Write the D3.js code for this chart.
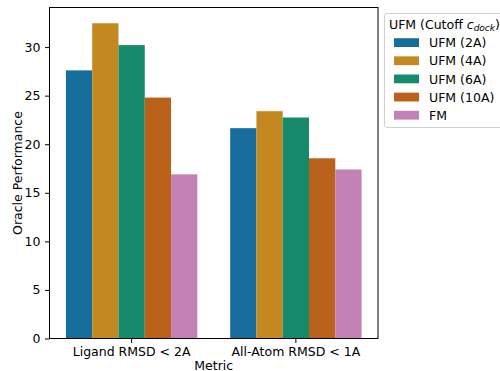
<!DOCTYPE html>
<html>
<head>
<meta charset="utf-8">
<script src="https://cdn.jsdelivr.net/npm/d3@7"></script>
<style>
  body { margin: 0; background: #fff; }
  svg { display: block; font-family: "DejaVu Sans", sans-serif; }
</style>
</head>
<body>
<div id="chart"></div>
<script>
// metric groups on the x axis
const metrics = ["Ligand RMSD < 2A", "All-Atom RMSD < 1A"];
// hue levels (legend order)
const models = ["UFM (2A)", "UFM (4A)", "UFM (6A)", "UFM (10A)", "FM"];
// values per model, one per metric
const ufm2 = [27.6, 21.65];
const ufm4 = [32.45, 23.4];
const ufm6 = [30.2, 22.75];
const ufm10 = [24.8, 18.55];
const fm = [16.9, 17.4];
const yTicks = [0, 5, 10, 15, 20, 25, 30];
const colors = ["#176d9c", "#c38820", "#168a6a", "#ba611b", "#c282b6"];

const series = [ufm2, ufm4, ufm6, ufm10, fm];
let rows = [];
metrics.forEach((m, i) => {
    models.forEach((h, j) => {
        rows.push({metric: m, model: h, value: series[j][i]});
    });
});

const width = 500, height = 371;
const margin = {top: 7.5, right: 122, bottom: 32.5, left: 49.5};

let svg = d3.select("#chart").append("svg")
    .attr("width", width)
    .attr("height", height);

let x0 = d3.scaleBand()
    .domain(metrics)
    .range([margin.left, width - margin.right])
    .paddingInner(0.2)
    .paddingOuter(0.1);

let x1 = d3.scaleBand()
    .domain(models)
    .range([0, x0.bandwidth()]);

// matplotlib style 5% headroom above the tallest bar
let yMax = d3.max(rows, d => d.value) * 1.05;
let y = d3.scaleLinear()
    .domain([0, yMax])
    .range([height - margin.bottom, margin.top]);

let color = d3.scaleOrdinal().domain(models).range(colors);

// bars
svg.append("g").selectAll("rect")
    .data(rows)
    .join("rect")
    .attr("x", d => x0(d.metric) + x1(d.model))
    .attr("y", d => y(d.value))
    .attr("width", x1.bandwidth())
    .attr("height", d => y(0) - y(d.value))
    .attr("fill", d => color(d.model));

// axes
let xAxis = svg.append("g")
    .attr("transform", "translate(0," + (height - margin.bottom) + ")")
    .call(d3.axisBottom(x0).tickSize(4.5).tickPadding(4));
let yAxis = svg.append("g")
    .attr("transform", "translate(" + margin.left + ",0)")
    .call(d3.axisLeft(y).tickValues(yTicks).tickSize(4.5).tickPadding(4.5));
[xAxis, yAxis].forEach(a => {
    a.attr("font-family", "DejaVu Sans").attr("font-size", 12.5);
    a.select(".domain").remove();
    a.selectAll(".tick line").attr("stroke", "#000").attr("stroke-width", 1);
    a.selectAll(".tick text").attr("fill", "#000");
});

// full frame like matplotlib
svg.append("rect")
    .attr("x", margin.left)
    .attr("y", margin.top)
    .attr("width", width - margin.left - margin.right)
    .attr("height", height - margin.top - margin.bottom)
    .attr("fill", "none")
    .attr("stroke", "#000")
    .attr("stroke-width", 1);

// axis titles
svg.append("text")
    .attr("x", (margin.left + width - margin.right) / 2)
    .attr("y", 369.5)
    .attr("text-anchor", "middle")
    .attr("font-size", 12.5)
    .text("Metric");

svg.append("text")
    .attr("transform", "translate(21.5," + ((margin.top + height - margin.bottom) / 2) + ") rotate(-90)")
    .attr("text-anchor", "middle")
    .attr("font-size", 12.5)
    .text("Oracle Performance");

// legend
let legend = svg.append("g").attr("transform", "translate(384,14)");
legend.append("rect")
    .attr("x", 0.5)
    .attr("y", -0.5)
    .attr("width", 130)
    .attr("height", 114)
    .attr("rx", 2.5)
    .attr("fill", "#fff")
    .attr("fill-opacity", 0.8)
    .attr("stroke", "#d0d0d0");

let title = legend.append("text")
    .attr("x", 5)
    .attr("y", 14.7)
    .attr("font-size", 12.5);
title.append("tspan").text("UFM (Cutoff ");
title.append("tspan").attr("font-style", "italic").text("c");
title.append("tspan").attr("font-style", "italic").attr("font-size", 9)
    .attr("dy", 2.5).text("dock");
title.append("tspan").attr("dy", -2.5).text(")");

let items = legend.selectAll("g.item")
    .data(models)
    .join("g")
    .attr("class", "item")
    .attr("transform", (d, i) => "translate(0," + (28.7 + i * 18.15) + ")");
items.append("rect")
    .attr("x", 10)
    .attr("y", -4.5)
    .attr("width", 25)
    .attr("height", 8.8)
    .attr("fill", d => color(d));
items.append("text")
    .attr("x", 45)
    .attr("y", 4.5)
    .attr("font-size", 12.5)
    .text(d => d);
</script>
</body>
</html>
